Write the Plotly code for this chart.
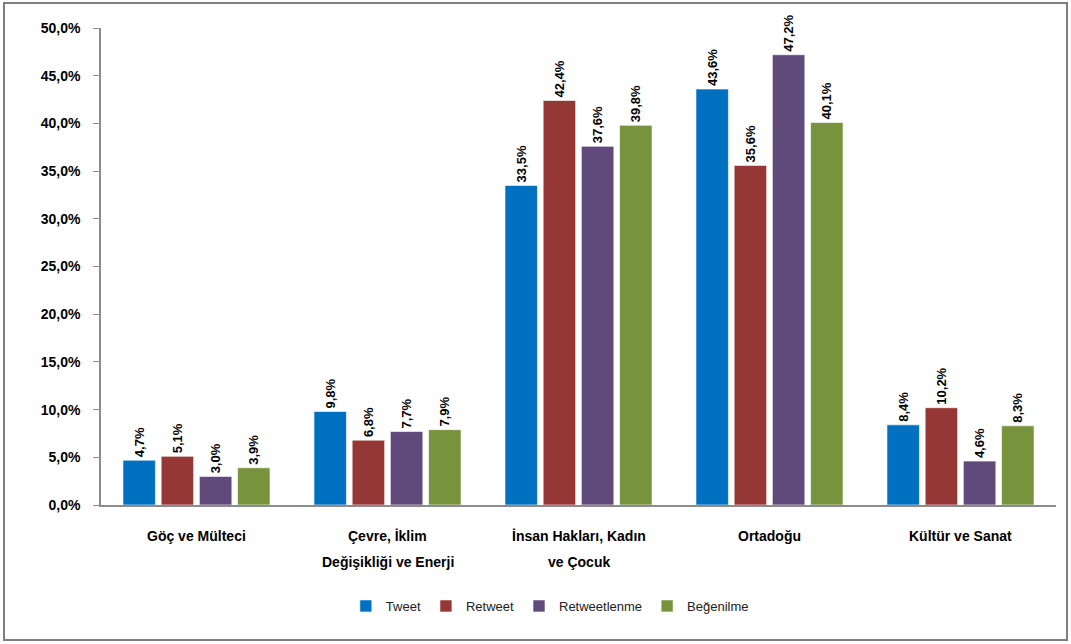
import plotly.graph_objects as go

categories = ["Göç ve Mülteci", "Çevre, İklim<br>Değişikliği ve Enerji",
              "İnsan Hakları, Kadın<br>ve Çocuk", "Ortadoğu", "Kültür ve Sanat"]
series_names = ["Tweet", "Retweet", "Retweetlenme", "Beğenilme"]
tweet = [4.7, 9.8, 33.5, 43.6, 8.4]
retweet = [5.1, 6.8, 42.4, 35.6, 10.2]
retweetlenme = [3.0, 7.7, 37.6, 47.2, 4.6]
begenilme = [3.9, 7.9, 39.8, 40.1, 8.3]
colors = ["#0070C0", "#953735", "#604A7B", "#77933C"]

W, H = 1071, 644
ml, mt, mr, mb = 101, 28, 15, 139
FONT = "Liberation Sans"

fig = go.Figure()
for name, vals, col in zip(series_names, [tweet, retweet, retweetlenme, begenilme], colors):
    fig.add_trace(go.Bar(
        name=name, x=categories, y=vals,
        marker=dict(color=col, line=dict(color="rgba(255,255,255,0.6)", width=1)),
        texttemplate="%{y:.1f}%", textposition="outside", textangle=-90,
        constraintext="none",
        textfont=dict(family=FONT, size=13, color="#000000", weight="bold"),
        cliponaxis=False,
    ))

pw = W - ml - mr
ph = H - mt - mb
x0 = (4 - ml) / pw
x1 = (W - 4 - ml) / pw
y0 = -(H - 4 - mt - ph) / ph
y1 = 1 + (mt - 3) / ph

annotations = []
for cat in categories:
    for i, line in enumerate(cat.split("<br>")):
        ypix = 536 + 26 * i
        annotations.append(dict(
            x=cat, xref="x", y=-(ypix - (mt + ph)) / ph, yref="paper",
            text=line, showarrow=False, xanchor="center", yanchor="middle",
            font=dict(family=FONT, size=14, color="#000000", weight="bold")))

fig.update_layout(
    width=W, height=H,
    margin=dict(l=ml, r=mr, t=mt, b=mb),
    paper_bgcolor="white", plot_bgcolor="white",
    separators=",.",
    barmode="group", bargap=0.2, bargroupgap=0.15,
    font=dict(family=FONT, color="#000000"),
    showlegend=True,
    legend=dict(orientation="h", x=0.47, xanchor="center", y=-(606 - (mt + ph)) / ph, yanchor="middle",
                font=dict(family=FONT, size=13, color="#222222"),
                itemwidth=30, tracegroupgap=0),
    xaxis=dict(showline=True, linecolor="#8c8c8c", linewidth=1.5, ticks="",
               showticklabels=False, showgrid=False),
    yaxis=dict(range=[0, 50], dtick=5, tickformat=".1f", ticksuffix="%",
               showline=True, linecolor="#8c8c8c", linewidth=1.5,
               ticks="outside", ticklen=6, tickcolor="#8c8c8c", ticklabelstandoff=10,
               tickfont=dict(family=FONT, size=14, color="#000000", weight="bold"),
               showgrid=False, zeroline=False),
    annotations=annotations,
    shapes=[dict(type="rect", xref="paper", yref="paper", x0=x0, x1=x1, y0=y0, y1=y1,
                 line=dict(color="#7f7f7f", width=2), layer="below")],
)

fig.write_html("out.html")
